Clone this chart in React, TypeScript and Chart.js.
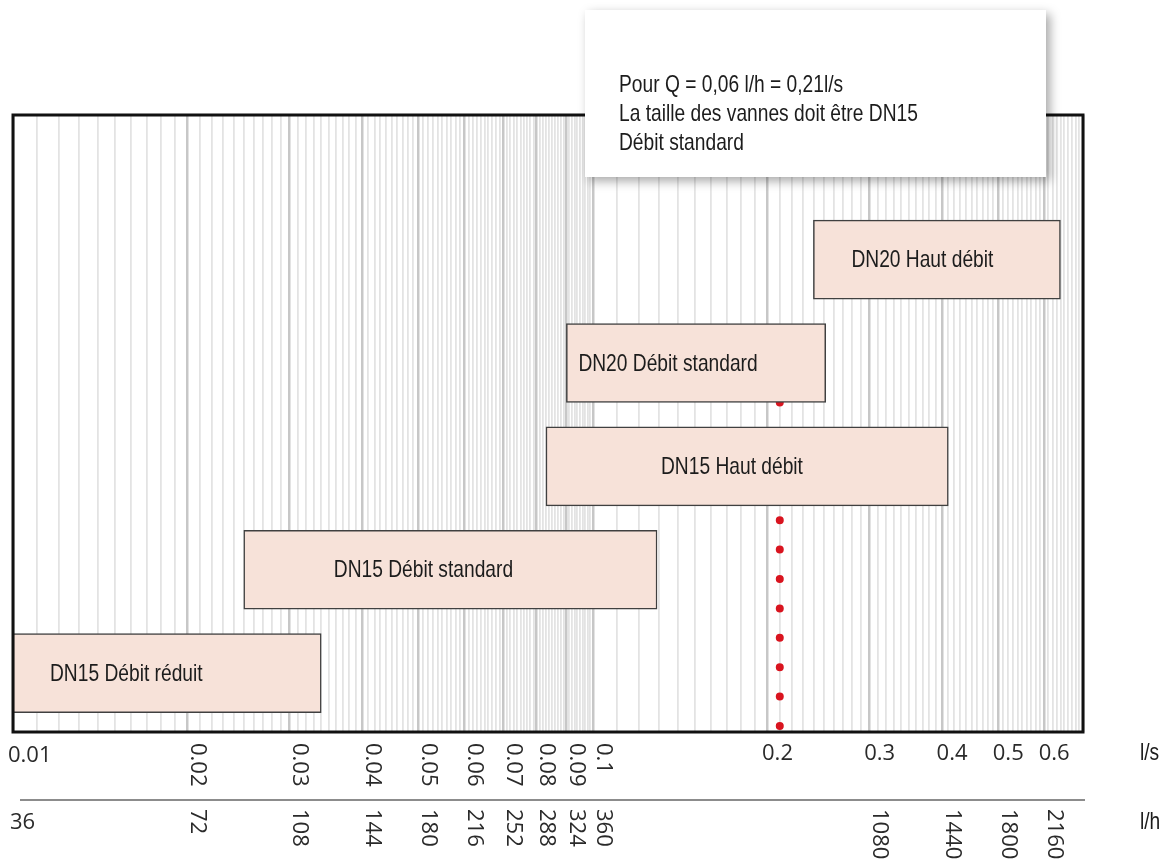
import React, { useEffect, useRef } from 'react';
import { Chart, registerables } from 'chart.js';

Chart.register(...registerables);

// ---------- data ----------
const categories = [
  'DN15 Débit réduit',
  'DN15 Débit standard',
  'DN15 Haut débit',
  'DN20 Débit standard',
  'DN20 Haut débit',
];
const rangeStart = [0.01, 0.025, 0.083, 0.09, 0.24]; // l/s
const rangeEnd = [0.034, 0.129, 0.41, 0.252, 0.64]; // l/s

const selectedFlow = 0.21; // l/s
const selectedCategory = 3; // index reached by the dotted line

const lsTickValues = [0.01, 0.02, 0.03, 0.04, 0.05, 0.06, 0.07, 0.08, 0.09, 0.1, 0.2, 0.3, 0.4, 0.5, 0.6];
const lsTickLabels = ['0.01', '0.02', '0.03', '0.04', '0.05', '0.06', '0.07', '0.08', '0.09', '0.1', '0.2', '0.3', '0.4', '0.5', '0.6'];
const lhTickValues = [0.01, 0.02, 0.03, 0.04, 0.05, 0.06, 0.07, 0.08, 0.09, 0.1, 0.3, 0.4, 0.5, 0.6];
const lhTickLabels = ['36', '72', '108', '144', '180', '216', '252', '288', '324', '360', '1080', '1440', '1800', '2160'];

const noteLines = ['Pour Q = 0,06 l/h = 0,21l/s', 'La taille des vannes doit être DN15', 'Débit standard'];
const unitLs = 'l/s';
const unitLh = 'l/h';

// ---------- styles ----------
const X_MIN = 0.01;
const X_MAX = 0.7;
const Y_MIN = -0.57;
const Y_MAX = 5.4;
const labelInset = [37, 90, 115, 12, 38];
const CONDENSED = "24px 'Liberation Sans', Arial, sans-serif";
const SQUEEZE = 0.8;
const TICKFONT = "22px 'Open Sans', 'DejaVu Sans', sans-serif";
const BOX_FILL = '#f7e2d9';
const BOX_BORDER = '#404040';
const RED = '#d9141f';
const TEXT = '#1c1c1c';

// grid line values (minor log grid)
const gridValues: number[] = [];
for (let i = 10; i < 100; i++) gridValues.push(i / 1000);
for (let i = 10; i <= 70; i++) gridValues.push(i / 100);

function isMajor(v: number) {
  if (v < 0.0995) return Math.abs(v * 100 - Math.round(v * 100)) < 1e-6;
  return Math.abs(v * 10 - Math.round(v * 10)) < 1e-6;
}

function condensedText(ctx: CanvasRenderingContext2D, text: string, x: number, y: number) {
  ctx.save();
  ctx.translate(x, y);
  ctx.scale(SQUEEZE, 1);
  ctx.font = CONDENSED;
  ctx.fillStyle = TEXT;
  ctx.textAlign = 'left';
  ctx.textBaseline = 'middle';
  ctx.fillText(text, 0, 0);
  ctx.restore();
}

const overlayPlugin = {
  id: 'overlay',
  afterDatasetsDraw(chart: any) {
    const { ctx, chartArea: ca, scales } = chart;
    const xs = scales.x;
    ctx.save();

    // box labels
    const meta = chart.getDatasetMeta(0);
    meta.data.forEach((el: any, i: number) => {
      const left = Math.min(el.x, el.base);
      condensedText(ctx, categories[i], left + labelInset[i], el.y + 1);
    });

    // chart frame
    ctx.strokeStyle = '#111';
    ctx.lineWidth = 3;
    ctx.strokeRect(ca.left, ca.top, ca.right - ca.left, ca.bottom - ca.top);

    // l/s tick labels
    ctx.font = TICKFONT;
    ctx.fillStyle = '#2a2a2a';
    lsTickValues.forEach((v, i) => {
      const px = xs.getPixelForValue(v) + 10;
      const rotated = v > 0.015 && v < 0.15;
      if (rotated) {
        ctx.save();
        ctx.translate(px, ca.bottom + 11);
        ctx.rotate(Math.PI / 2);
        ctx.textAlign = 'left';
        ctx.textBaseline = 'middle';
        ctx.fillText(lsTickLabels[i], 0, 0);
        ctx.restore();
      } else if (v < 0.015) {
        ctx.textAlign = 'left';
        ctx.textBaseline = 'middle';
        ctx.fillText(lsTickLabels[i], 8, ca.bottom + 24);
      } else {
        ctx.textAlign = 'center';
        ctx.textBaseline = 'middle';
        ctx.fillText(lsTickLabels[i], px, ca.bottom + 22);
      }
    });

    // separator
    ctx.strokeStyle = '#8c8c8c';
    ctx.lineWidth = 2;
    ctx.beginPath();
    ctx.moveTo(20, ca.bottom + 68);
    ctx.lineTo(ca.right + 2, ca.bottom + 68);
    ctx.stroke();

    // l/h tick labels
    lhTickValues.forEach((v, i) => {
      const px = xs.getPixelForValue(v) + 10;
      if (v < 0.015) {
        ctx.textAlign = 'left';
        ctx.textBaseline = 'middle';
        ctx.fillText(lhTickLabels[i], 10, ca.bottom + 91);
      } else {
        ctx.save();
        ctx.translate(px, ca.bottom + 77);
        ctx.rotate(Math.PI / 2);
        ctx.textAlign = 'left';
        ctx.textBaseline = 'middle';
        ctx.fillText(lhTickLabels[i], 0, 0);
        ctx.restore();
      }
    });

    // units
    condensedText(ctx, unitLs, 1140, ca.bottom + 21);
    condensedText(ctx, unitLh, 1140, ca.bottom + 90);

    // note box
    ctx.save();
    ctx.shadowColor = 'rgba(0,0,0,0.35)';
    ctx.shadowBlur = 10;
    ctx.shadowOffsetX = 4;
    ctx.shadowOffsetY = 4;
    ctx.fillStyle = '#ffffff';
    ctx.fillRect(585, 10, 461, 167);
    ctx.restore();
    noteLines.forEach((t, i) => condensedText(ctx, t, 619, 85 + i * 29));

    ctx.restore();
  },
};

export default function App() {
  const ref = useRef<HTMLCanvasElement | null>(null);

  useEffect(() => {
    if (!ref.current) return;
    const chart = new Chart(ref.current, {
      type: 'bar',
      data: {
        datasets: [
          {
            type: 'bar',
            indexAxis: 'y',
            data: categories.map((_, i) => ({ x: [rangeStart[i], rangeEnd[i]], y: i })) as any,
            backgroundColor: BOX_FILL,
            borderColor: BOX_BORDER,
            borderWidth: 1.5,
            borderSkipped: false,
            barThickness: 79,
            order: 0,
          } as any,
          {
            type: 'line',
            indexAxis: 'x',
            data: [
              { x: selectedFlow, y: Y_MIN },
              { x: selectedFlow, y: selectedCategory },
            ],
            borderColor: RED,
            borderWidth: 8,
            borderDash: [0, 29.4],
            borderDashOffset: 23.4,
            borderCapStyle: 'round',
            pointRadius: 0,
            fill: false,
            order: 1,
          } as any,
        ],
      },
      options: {
        responsive: false,
        animation: false,
        indexAxis: 'y',
        layout: { padding: { left: 13, right: 87, top: 115, bottom: 130 } },
        plugins: { legend: { display: false }, tooltip: { enabled: false } },
        scales: {
          x: {
            type: 'logarithmic',
            min: X_MIN,
            max: X_MAX,
            position: 'bottom',
            offset: false,
            afterBuildTicks: (scale: any) => {
              scale.ticks = gridValues.map((v) => ({ value: v }));
            },
            ticks: { display: false },
            border: { display: false },
            grid: {
              drawTicks: false,
              tickLength: 0,
              offset: false,
              color: (c: any) => (c.tick && isMajor(c.tick.value) ? 'rgba(0,0,0,0.22)' : 'rgba(0,0,0,0.11)'),
              lineWidth: (c: any) => (c.tick && isMajor(c.tick.value) ? 2.5 : 1.8),
            },
          },
          y: {
            type: 'linear',
            min: Y_MIN,
            max: Y_MAX,
            offset: false,
            display: false,
          },
        },
      } as any,
      plugins: [overlayPlugin],
    });
    return () => chart.destroy();
  }, []);

  return (
    <div style={{ position: 'absolute', left: 0, top: 0, width: 1170, height: 862, background: '#fff' }}>
      <canvas ref={ref} width={1170} height={862} />
    </div>
  );
}
